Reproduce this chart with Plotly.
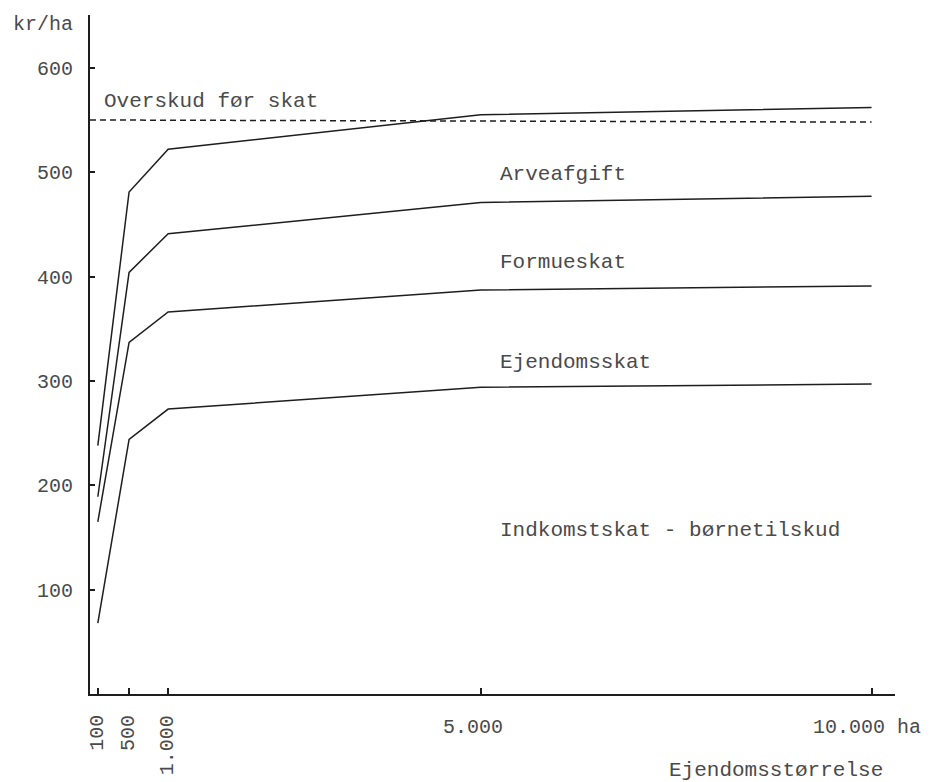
import plotly.graph_objects as go

# Data
farm_size = [100, 500, 1000, 5000, 10000]
indkomstskat = [68, 244, 273, 294, 297]          # Indkomstskat - børnetilskud
ejendomsskat_cum = [165, 337, 366, 387, 391]     # + Ejendomsskat
formueskat_cum = [189, 404, 441, 471, 477]       # + Formueskat
arveafgift_cum = [238, 481, 522, 555, 562]       # + Arveafgift
overskud_x = [0, 10000]
overskud = [550, 548]                            # Overskud før skat

y_ticks = [100, 200, 300, 400, 500, 600]
x_ticks_small = [100, 500, 1000]
x_ticks_small_labels = ["100", "500", "1.000"]
x_ticks_big = [5000, 10000]
x_ticks_big_labels = ["5.000", "10.000 ha"]

FONT = "Liberation Mono, Courier New, monospace"
LINE = "#1e1e1e"
TXT = "#4a4a4a"

fig = go.Figure()
for ys in [indkomstskat, ejendomsskat_cum, formueskat_cum, arveafgift_cum]:
    fig.add_trace(go.Scatter(x=farm_size, y=ys, mode="lines",
                             line=dict(color=LINE, width=1.5),
                             showlegend=False, hoverinfo="skip"))
fig.add_trace(go.Scatter(x=overskud_x, y=overskud, mode="lines",
                         line=dict(color=LINE, width=1.5, dash="6px,4px"),
                         showlegend=False, hoverinfo="skip"))

annotations = []
# band labels
band_labels = [
    ("Overskud før skat", 148, 568),
    ("Arveafgift", 5220, 498),
    ("Formueskat", 5220, 413),
    ("Ejendomsskat", 5220, 318),
    ("Indkomstskat - børnetilskud", 5220, 157),
]
for t, x, y in band_labels:
    annotations.append(dict(text=t, x=x, y=y, xref="x", yref="y",
                            xanchor="left", yanchor="middle", showarrow=False,
                            font=dict(family=FONT, size=21, color=TXT)))
# rotated x tick labels
for v, t in zip(x_ticks_small, x_ticks_small_labels):
    annotations.append(dict(text=t, x=v, y=0, xref="x", yref="paper",
                            xanchor="center", yanchor="top", yshift=-19,
                            xshift=-1, textangle=-90, showarrow=False,
                            font=dict(family=FONT, size=20, color=TXT)))
# horizontal x tick labels
annotations.append(dict(text=x_ticks_big_labels[0], x=x_ticks_big[0], y=0,
                        xref="x", yref="paper", xanchor="center", yanchor="top",
                        xshift=-8, yshift=-20, showarrow=False,
                        font=dict(family=FONT, size=20, color=TXT)))
annotations.append(dict(text=x_ticks_big_labels[1], x=x_ticks_big[1], y=0,
                        xref="x", yref="paper", xanchor="right", yanchor="top",
                        xshift=51, yshift=-20, showarrow=False,
                        font=dict(family=FONT, size=20, color=TXT)))
# axis titles
annotations.append(dict(text="Ejendomsstørrelse", x=1, y=0, xref="paper",
                        yref="paper", xanchor="right", yanchor="top",
                        xshift=-10, yshift=-63, showarrow=False,
                        font=dict(family=FONT, size=21, color=TXT)))
annotations.append(dict(text="kr/ha", x=0, y=1, xref="paper", yref="paper",
                        xanchor="right", yanchor="middle", xshift=-15, yshift=-9,
                        showarrow=False,
                        font=dict(family=FONT, size=20, color=TXT)))

fig.update_layout(
    width=931, height=782,
    margin=dict(l=90, r=36, t=15, b=88),
    paper_bgcolor="white", plot_bgcolor="white",
    annotations=annotations,
    xaxis=dict(range=[0, 10300], showgrid=False, zeroline=False,
               showline=True, linewidth=2, linecolor=LINE,
               tickmode="array", tickvals=x_ticks_small + x_ticks_big,
               ticks="inside", ticklen=6, tickwidth=1.5, tickcolor=LINE,
               showticklabels=False, fixedrange=True),
    yaxis=dict(range=[0, 650.6], showgrid=False, zeroline=False,
               showline=True, linewidth=2, linecolor=LINE,
               tickmode="array", tickvals=y_ticks,
               ticktext=[str(v) for v in y_ticks],
               ticks="inside", ticklen=5, tickwidth=1.5, tickcolor=LINE,
               ticklabelstandoff=11,
               tickfont=dict(family=FONT, size=20, color=TXT), fixedrange=True),
)

fig.write_html("out.html", config={"displayModeBar": False},
               post_script="document.body.style.margin='0px';"
                           "document.body.style.overflow='hidden';")
